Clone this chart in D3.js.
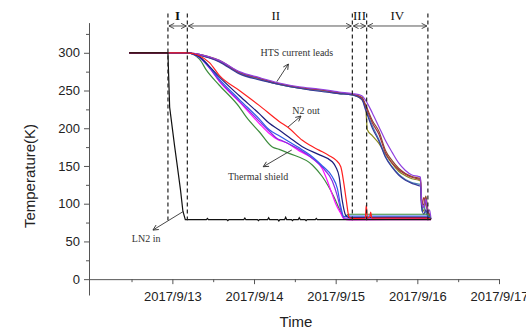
<!DOCTYPE html>
<html lang="en">
<head>
<meta charset="UTF-8">
<title>Cool-down temperatures</title>
<script src="https://d3js.org/d3.v7.min.js"></script>
<style>
  body { margin: 0; background: #fff; }
  .axis text { font: 13px "Liberation Sans", Arial, sans-serif; fill: #222; }
  .axis path, .axis line { stroke: #555; }
  .note { font: 10px "Liberation Serif", "Times New Roman", serif; fill: #333; }
  .phase { font: 13px "Liberation Serif", "Times New Roman", serif; fill: #111; }
</style>
</head>
<body>
<script>
// time is hours after 2017/9/12 00:00, values in K
const lnIn = [[11.3,300],[22.7,300],[23.2,228],[24.7,175],[25.3,155],[26.4,118],[27.1,90],[27.8,79],
  [34,79],[34.3,80.5],[34.6,79],[40,79],[40.3,77.5],[40.6,79],[45,79],[45.3,81],[45.6,79],
  [49,79],[49.3,77.5],[49.6,79],[52,79],[52.3,81.5],[52.6,79],[55,79],[55.3,77],[55.6,79],
  [57,79],[57.3,82],[57.6,79],[59,79],[59.3,77.5],[59.6,79],[61,79],[61.3,81.5],[61.6,79],
  [63,79],[63.3,77.5],[63.6,79],[66,79],[66.3,80.5],[66.6,79],[100,79]];

// HTS current leads
const htsPurple = [[11.3,300],[28.4,300],[31.9,298],[37.8,290],[43.7,275],[49.6,267],[55.4,260],[61.3,255],[67.1,252],[73,248],[76.9,246],[79.7,243],[80.8,237],[82.8,220],[84.7,202],[86.6,184],[88.6,168],[90.5,154],[92.5,144],[94.4,138],[96.4,136],[96.9,135],[97.3,100],[97.9,95],[98.5,106],[99.1,88],[99.6,92],[100,80]];
const htsBrown = [[11.3,300],[28.4,300],[31.9,298],[37.8,290],[43.7,274],[49.6,266],[55.4,259],[61.3,254],[67.1,251],[73,247],[76.9,245],[79.7,241],[80.8,231],[82.8,210],[84.7,196],[86.6,171],[88.6,157],[90.5,147],[92.5,140],[94.4,136],[96.4,134],[96.9,133.5],[97.3,105],[97.9,98],[98.5,110],[99.1,92],[99.6,85],[100,80]];
const htsMaroon = [[11.3,300],[28.4,300],[31.9,298],[37.8,289],[43.7,274],[49.6,266],[55.4,259],[61.3,254],[67.1,251],[73,247],[76.9,245],[79.7,240],[80.8,229],[82.8,207],[84.7,192],[86.6,168],[88.6,154],[90.5,145],[92.5,139],[94.4,135],[96.4,132.5],[96.9,132],[97.3,95],[97.9,108],[98.5,100],[99.1,90],[99.6,84],[100,79]];
const htsOlive = [[11.3,300],[28.4,300],[31.9,297],[37.8,289],[43.7,273],[49.6,265],[55.4,258],[61.3,253],[67.1,250],[73,246],[76.9,244],[79.7,238],[80.8,228],[81.3,198],[82.8,190],[84.7,180],[86.6,166],[88.6,153],[90.5,143],[92.5,137],[94.4,133],[96.4,131],[96.9,130],[97.3,100],[97.9,90],[98.5,102],[99.1,86],[99.6,82],[100,80]];
const htsSteel = [[11.3,300],[28.4,300],[31.9,297],[37.8,289],[43.7,273],[49.6,265],[55.4,258],[61.3,253],[67.1,250],[73,246],[76.9,244],[79.7,239],[80.8,226],[82.8,203],[84.7,185],[86.6,163],[88.6,149],[90.5,139],[92.5,132],[94.4,128],[96.4,126],[96.9,125.5],[97.3,90],[97.9,97],[98.5,88],[99.1,84],[99.6,81],[100,80]];
const htsNavy = [[11.3,300],[28.4,300],[31.9,297],[37.8,288],[43.7,272],[49.6,264],[55.4,258],[61.3,253],[67.1,249],[73,246],[76.9,244],[79.7,238],[80.8,224],[82.8,200],[84.7,183],[86.6,162],[88.6,148],[90.5,138],[92.5,131],[94.4,127],[96.4,124],[96.9,123],[97.3,95],[97.9,86],[98.5,92],[99.1,83],[99.6,80],[100,80]];

// thermal shield and N2 out
const n2Out = [[11.3,300],[28.4,300],[29.9,299],[31.9,296],[34.9,287],[37.8,270],[43.7,250],[49.6,230],[55.4,209],[58.3,200],[62.2,184],[64.2,178],[67.1,171],[70,164],[72,158],[73.5,149],[74.4,127],[75.1,105],[75.9,83],[76.8,80.5],[80.7,81],[81,98],[81.3,81],[82,82],[82.3,89],[82.6,81],[96,81],[99,81],[100,79]];
const shieldNavy = [[11.3,300],[28.4,300],[31.9,295],[34.9,282],[37.8,268],[43.7,243],[49.6,219],[52.5,206.5],[55.4,197.6],[58.3,188],[62.2,175.5],[67.1,165],[71,155.6],[72.1,148],[73,136],[73.9,105],[74.9,85],[75.9,81.5],[99,82],[100,80]];
const shieldBlue = [[11.3,300],[28.4,300],[31.9,294],[34.9,281],[37.8,265],[43.7,238],[49.6,212],[52.5,198],[55.4,190],[58.3,182],[61.3,174],[65.2,162],[68.1,150],[71,135.7],[72.5,120],[73.5,96],[74.4,83],[75.5,83.5],[99,83.5],[100,80]];
const shieldPurple = [[11.3,300],[28.4,300],[31.9,294],[34.9,280],[37.8,263],[43.7,236],[49.6,209],[52.5,196],[54.9,186],[56,184],[58.3,179],[61.3,172],[65.2,160],[68.1,148],[71,130],[72.5,110],[73.5,92],[74.4,81],[99,80.5],[100,79]];
const shieldMagenta = [[11.3,300],[28.4,300],[31.9,294],[34.9,280],[37.8,262],[43.7,235],[49.6,206],[52.5,193],[54.9,185],[57.4,181],[61.3,170],[65.2,160],[68.1,146],[69.1,135.7],[71,112],[72,100],[73.5,87],[74.4,80],[76,78.5],[99,79],[100,79]];
const shieldGreen = [[11.3,300],[28.4,300],[31.9,292],[34,277],[37.8,257],[43.7,228],[45.7,215],[49.6,195],[53.4,175],[55.4,172],[58.3,166.7],[65.2,151],[68.1,135.7],[71.5,109],[73.5,89],[74.4,82.6],[75.9,86],[99,86],[100,80]];

const seriesData = [htsBrown, htsOlive, htsSteel, htsMaroon, htsNavy, htsPurple,
  shieldGreen, shieldMagenta, shieldPurple, shieldBlue, shieldNavy, n2Out];
const seriesColors = ["#8b4a2b", "#8a8a1a", "#4a8ab8", "#a03040", "#3a3a9a", "#9040e0",
  "#3c8c3c", "#ff10ff", "#8a2be2", "#2f5ce8", "#1c1c7a", "#ff2020"];

const phaseBounds = [22.7, 28.4, 76.9, 81.1, 99.1];
const phaseNames = ["I", "II", "III", "IV"];

const yMajor = [0, 50, 100, 150, 200, 250, 300];
const yMinor = [25, 75, 125, 175, 225, 275, 325];
const dayTicks = [13, 14, 15, 16, 17];
const halfDayTicks = [12, 13, 14, 15, 16];

// annotation text and arrows, placed in data units [hours, K]
const notes = [
  { text: "HTS current leads", at: [60.6, 295.7], from: [54.7, 261.7], to: [58.1, 285.1] },
  { text: "N2 out", at: [63.3, 219.5], from: [58.0, 201.6], to: [61.8, 216.2] },
  { text: "Thermal shield", at: [49.2, 131.4], from: [59.1, 171.2], to: [50.7, 149.0] },
  { text: "LN2 in", at: [16.3, 49.2], from: [27.1, 89.4], to: [18.3, 65.1] }
];

const width = 526, height = 332;
const t0 = new Date(2017, 8, 12);
const hr = h => new Date(+t0 + h * 3600e3);

const x = d3.scaleTime().domain([hr(-0.5), hr(120)]).range([89, 499]);
const y = d3.scaleLinear().domain([-21, 340]).range([295, 22.6]);

const svg = d3.select("body").append("svg")
    .attr("width", width)
    .attr("height", height)
    .style("background", "#fff");

const defs = svg.append("defs");
defs.append("marker")
    .attr("id", "head")
    .attr("markerUnits", "userSpaceOnUse")
    .attr("viewBox", "0 0 8 8")
    .attr("refX", 7).attr("refY", 4)
    .attr("markerWidth", 7).attr("markerHeight", 7)
    .attr("orient", "auto-start-reverse")
    .append("path")
    .attr("d", "M1,1 L7,4 L1,7")
    .attr("fill", "none")
    .attr("stroke", "#333")
    .attr("stroke-width", 1);

// axes
svg.append("g").attr("class", "axis")
    .attr("transform", "translate(89,0)")
    .call(d3.axisLeft(y).tickValues(yMajor).tickSize(5).tickSizeOuter(0).tickPadding(4));
svg.append("g").attr("class", "axis")
    .attr("transform", "translate(89,0)")
    .call(d3.axisLeft(y).tickValues(yMinor).tickSize(3).tickSizeOuter(0).tickFormat(""))
    .select(".domain").remove();

const fmt = d3.timeFormat("%Y/%-m/%-d");
svg.append("g").attr("class", "axis")
    .attr("transform", `translate(0,${y(0)})`)
    .call(d3.axisBottom(x).tickValues(dayTicks.map(d => new Date(2017, 8, d)))
        .tickFormat(fmt).tickSize(5).tickSizeOuter(0).tickPadding(8));
svg.append("g").attr("class", "axis")
    .attr("transform", `translate(0,${y(0)})`)
    .call(d3.axisBottom(x).tickValues(halfDayTicks.map(d => new Date(2017, 8, d, 12)))
        .tickSize(3).tickFormat(""))
    .select(".domain").remove();

svg.append("text")
    .attr("x", 296).attr("y", 327)
    .attr("text-anchor", "middle")
    .style("font", "15px 'Liberation Sans', Arial, sans-serif")
    .style("fill", "#222")
    .text("Time");

svg.append("text")
    .attr("transform", "translate(35,176) rotate(-90)")
    .attr("text-anchor", "middle")
    .style("font", "15px 'Liberation Sans', Arial, sans-serif")
    .style("fill", "#222")
    .text("Temperature(K)");

// temperature curves
const line = d3.line()
    .x(d => x(hr(d[0])))
    .y(d => y(d[1]))
    .curve(d3.curveMonotoneX);

svg.append("g")
    .selectAll("path")
    .data(seriesData)
    .enter().append("path")
    .attr("d", line)
    .attr("fill", "none")
    .attr("stroke", (d, i) => seriesColors[i])
    .attr("stroke-width", 1.2);

// LN2 inlet, drawn straight so the noise stays spiky
svg.append("path")
    .datum(lnIn)
    .attr("d", d3.line().x(d => x(hr(d[0]))).y(d => y(d[1])))
    .attr("fill", "none")
    .attr("stroke", "#111")
    .attr("stroke-width", 1.2);

// phase boundaries
svg.append("g")
    .selectAll("line")
    .data(phaseBounds)
    .enter().append("line")
    .attr("x1", d => x(hr(d))).attr("x2", d => x(hr(d)))
    .attr("y1", y(352)).attr("y2", y(78))
    .attr("stroke", "#222")
    .attr("stroke-width", 1.2)
    .attr("stroke-dasharray", "4,3");

const phases = phaseNames.map((name, i) => ({ name, a: phaseBounds[i], b: phaseBounds[i + 1] }));

svg.append("g")
    .selectAll("line")
    .data(phases)
    .enter().append("line")
    .attr("x1", d => x(hr(d.a)) + 1).attr("x2", d => x(hr(d.b)) - 1)
    .attr("y1", y(335.5)).attr("y2", y(335.5))
    .attr("stroke", "#444")
    .attr("stroke-width", 0.9)
    .attr("marker-start", "url(#head)")
    .attr("marker-end", "url(#head)");

svg.append("g")
    .selectAll("text")
    .data(phases)
    .enter().append("text")
    .attr("class", "phase")
    .attr("x", d => (x(hr(d.a)) + x(hr(d.b))) / 2 + (d.name === "II" ? 6 : 0))
    .attr("y", y(344))
    .attr("text-anchor", "middle")
    .style("font-weight", d => d.name === "I" ? "bold" : "normal")
    .text(d => d.name);

// annotations
const noteG = svg.append("g");
noteG.selectAll("line")
    .data(notes)
    .enter().append("line")
    .attr("x1", d => x(hr(d.from[0]))).attr("y1", d => y(d.from[1]))
    .attr("x2", d => x(hr(d.to[0]))).attr("y2", d => y(d.to[1]))
    .attr("stroke", "#333")
    .attr("stroke-width", 0.9)
    .attr("marker-end", "url(#head)");
noteG.selectAll("text")
    .data(notes)
    .enter().append("text")
    .attr("class", "note")
    .attr("x", d => x(hr(d.at[0]))).attr("y", d => y(d.at[1]))
    .attr("text-anchor", "middle")
    .text(d => d.text);
</script>
</body>
</html>
